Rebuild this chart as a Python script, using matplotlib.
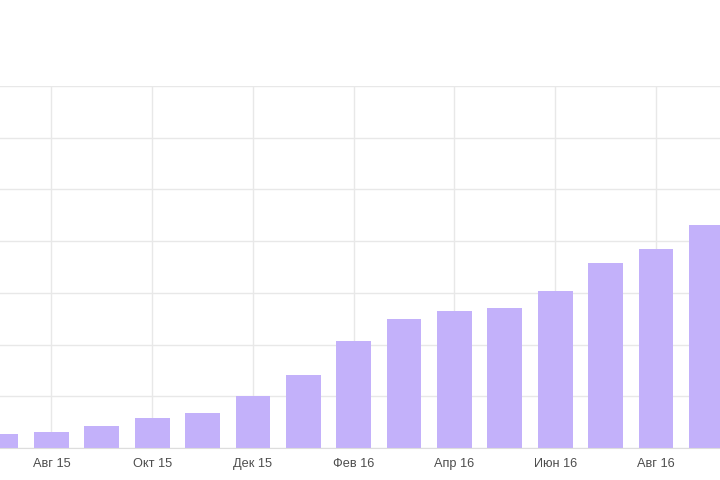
import numpy as np
import matplotlib.pyplot as plt

# Monthly values (in gridline units, axis labels are cropped in the source)
months = ["Июл 15", "Авг 15", "Сен 15", "Окт 15", "Ноя 15", "Дек 15", "Янв 16",
          "Фев 16", "Мар 16", "Апр 16", "Май 16", "Июн 16", "Июл 16", "Авг 16", "Сен 16"]
values = [0.27, 0.31, 0.42, 0.58, 0.68, 1.01, 1.41, 2.06, 2.50, 2.65,
          2.70, 3.03, 3.57, 3.85, 4.31]

BAR_COLOR = "#c3b1fa"
GRID_COLOR = "#e8e8e8"

fig = plt.figure(figsize=(7.2, 4.8), dpi=100)
ax = fig.add_axes([0.0, 32 / 480, 1.0, 362 / 480])

x = np.arange(len(months))
ax.bar(x, values, width=0.69, color=BAR_COLOR, zorder=3)

# ticks only on every other month (matches the source axis)
tick_pos = x[1::2]
ax.set_xticks(tick_pos)
ax.set_xticklabels([months[i] for i in tick_pos], fontsize=9.2,
                   family="Liberation Sans", color="#4d4d4d")
ax.tick_params(axis="x", length=0, pad=7.5)
ax.set_yticks(np.arange(0, 8))
ax.tick_params(axis="y", length=0, labelleft=False)

ax.set_xlim(-0.02, 14.27)
ax.set_ylim(0, 7)

ax.grid(True, color=GRID_COLOR, linewidth=1, zorder=0)
for side in ["left", "right", "top"]:
    ax.spines[side].set_visible(False)
ax.spines["bottom"].set_color("#dddddd")
ax.spines["bottom"].set_zorder(4)

fig.savefig("out.png", dpi=100)
